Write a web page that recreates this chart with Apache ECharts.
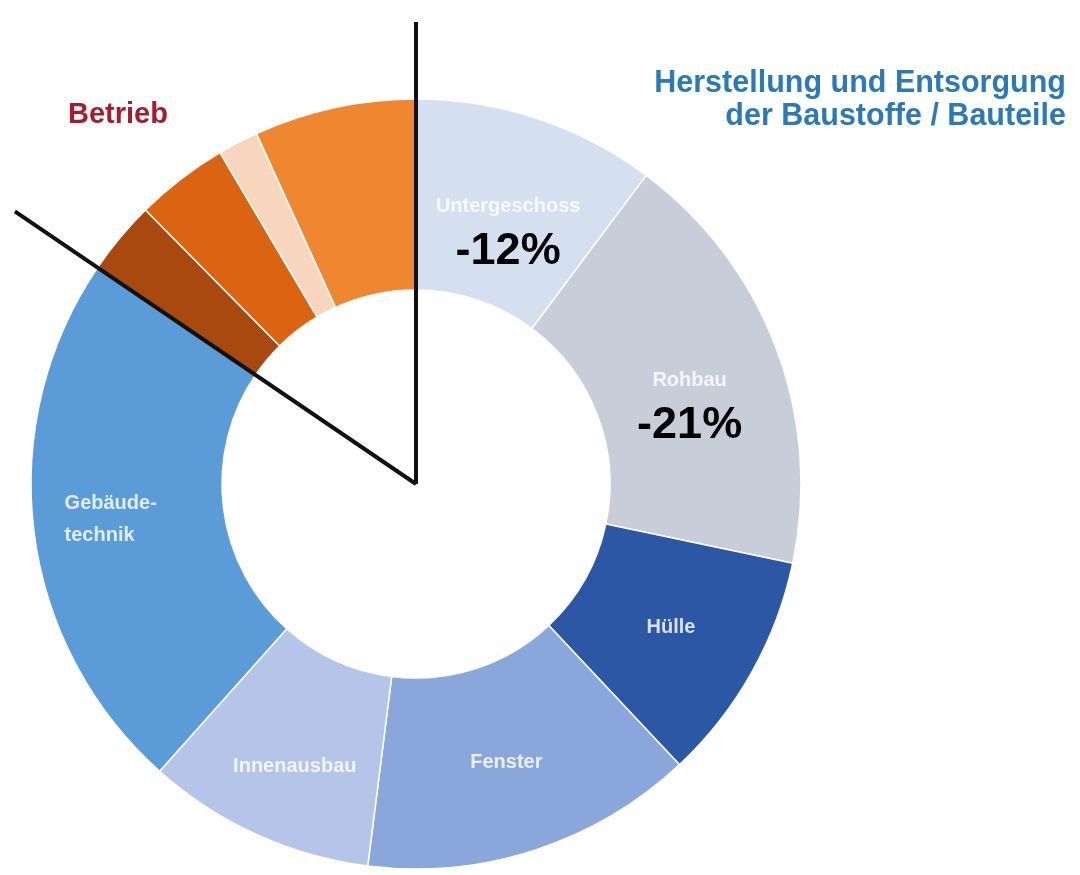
<!DOCTYPE html>
<html>
<head>
<meta charset="utf-8">
<script src="https://cdn.jsdelivr.net/npm/echarts@6/dist/echarts.min.js"></script>
<style>
html,body{margin:0;padding:0;background:#fff;}
#c{width:1080px;height:875px;}
</style>
</head>
<body>
<div id="c"></div>
<script>
// ---- data ----
const categories = ['Untergeschoss', 'Rohbau', 'Hülle', 'Fenster', 'Innenausbau', 'Gebäudetechnik',
                    'Betrieb 1', 'Betrieb 2', 'Betrieb 3', 'Betrieb 4'];
const shares = [10.2, 18.1, 9.7, 14.0, 9.6, 22.9, 3.1, 3.9, 1.7, 6.8];
const changes = ['-12%', '-21%', '', '', '', '', '', '', '', ''];
const showName = [true, true, true, true, true, true, false, false, false, false];
const colors = ['#d4dff0', '#c8cdda', '#2c57a4', '#8aa7db', '#b5c5ea', '#5b9bd8',
                '#a8490f', '#db6413', '#f7d6bd', '#ef8731'];
const titleRightLines = ['Herstellung und Entsorgung', 'der Baustoffe / Bauteile'];
const titleLeft = 'Betrieb';

// ---- layout ----
const CX = 416, CY = 484, R_OUT = 385, R_IN = 194;
const total = shares.reduce((a, b) => a + b, 0);
// angle (deg, clockwise from 12 o'clock) at end of the "Gebäudetechnik" slice
const endIdx = categories.indexOf('Gebäudetechnik');
const cumEnd = shares.slice(0, endIdx + 1).reduce((a, b) => a + b, 0) / total * 360;
function pt(angleDeg, len) {
  const a = angleDeg * Math.PI / 180;
  return [CX + len * Math.sin(a), CY - len * Math.cos(a)];
}
const vEnd = pt(0, 462);
const dEnd = pt(cumEnd, 485);

const data = categories.map((name, i) => {
  const item = { name: name, value: shares[i], itemStyle: { color: colors[i] } };
  if (!showName[i]) {
    item.label = { show: false };
  } else if (changes[i]) {
    item.label = { formatter: '{s|}\n{n|' + name + '}\n{p|' + changes[i] + '}' };
  } else if (name === 'Gebäudetechnik') {
    item.label = { formatter: '{g|Gebäude-}\n{g|technik}' };
  } else if (name === 'Innenausbau') {
    item.label = { formatter: '{s2|}\n{n|' + name + '}' };
  }
  return item;
});

const titleFont = 'bold 30.5px "Liberation Sans", Arial, sans-serif';
const chart = echarts.init(document.getElementById('c'), null, { renderer: 'canvas' });
chart.setOption({
  backgroundColor: '#ffffff',
  animation: false,
  series: [{
    type: 'pie',
    center: [CX, CY],
    radius: [R_IN, R_OUT],
    startAngle: 90,
    clockwise: true,
    avoidLabelOverlap: false,
    itemStyle: { borderColor: '#ffffff', borderWidth: 1.5 },
    label: {
      show: true,
      position: 'inside',
      formatter: '{n|{b}}',
      rich: {
        s: { height: 66, lineHeight: 66 },
        s2: { height: 32, lineHeight: 32 },
        n: { fontFamily: 'Liberation Sans, Arial, sans-serif', fontWeight: 'bold', fontSize: 20,
             color: 'rgba(255,255,255,0.82)', lineHeight: 24 },
        p: { fontFamily: 'Liberation Sans, Arial, sans-serif', fontWeight: 'bold', fontSize: 45,
             color: '#000000', lineHeight: 66 },
        g: { fontFamily: 'Liberation Sans, Arial, sans-serif', fontWeight: 'bold', fontSize: 20,
             color: 'rgba(255,255,255,0.82)', lineHeight: 32, align: 'left', padding: [0, 30, 0, 0] }
      }
    },
    labelLine: { show: false },
    emphasis: { disabled: true },
    data: data
  }],
  graphic: [
    { type: 'line', z: 100, shape: { x1: CX, y1: CY, x2: vEnd[0], y2: vEnd[1] },
      style: { stroke: '#111111', lineWidth: 4 } },
    { type: 'line', z: 100, shape: { x1: CX, y1: CY, x2: dEnd[0], y2: dEnd[1] },
      style: { stroke: '#111111', lineWidth: 4 } },
    { type: 'text', z: 100, x: 68, y: 100,
      style: { text: titleLeft, fill: '#a51c2e', font: 'bold 29px "Liberation Sans", Arial, sans-serif' } },
    { type: 'text', z: 100, x: 1066, y: 84,
      style: { text: titleRightLines[0], fill: '#2b79b6', align: 'right', verticalAlign: 'middle', font: titleFont } },
    { type: 'text', z: 100, x: 1066, y: 117,
      style: { text: titleRightLines[1], fill: '#2b79b6', align: 'right', verticalAlign: 'middle', font: titleFont } }
  ]
});
</script>
</body>
</html>
